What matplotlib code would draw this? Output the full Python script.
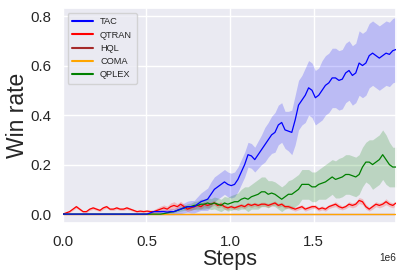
import numpy as np
import matplotlib
matplotlib.use("Agg")
import matplotlib.pyplot as plt
import seaborn as sns

sns.set_theme(style="darkgrid")
plt.rcParams['font.family'] = ['Liberation Sans', 'DejaVu Sans']

n_points = 100
steps = np.linspace(0, 1.994e6, n_points)

tac_mean = [0.0] * 25 + [
    0.0, 0.005, 0.01, 0.01, 0.01,
    0.01, 0.008, 0.01, 0.01, 0.015, 0.02, 0.025, 0.03, 0.03, 0.03,
    0.04, 0.05, 0.055, 0.06, 0.08, 0.10, 0.11, 0.12, 0.13, 0.12,
    0.115, 0.12, 0.14, 0.17, 0.2, 0.24, 0.235, 0.22, 0.24, 0.26,
    0.28, 0.3, 0.32, 0.33, 0.36, 0.37, 0.34, 0.335, 0.33, 0.38,
    0.44, 0.46, 0.48, 0.51, 0.5, 0.47, 0.48, 0.5, 0.52, 0.53,
    0.55, 0.55, 0.54, 0.545, 0.57, 0.58, 0.56, 0.57, 0.61, 0.6,
    0.61, 0.64, 0.65, 0.64, 0.63, 0.64, 0.65, 0.645, 0.66, 0.665]
tac_std = [0.0] * 25 + [
    0.0, 0.003, 0.005, 0.006, 0.008,
    0.01, 0.01, 0.012, 0.012, 0.015, 0.018, 0.02, 0.022, 0.025, 0.025,
    0.03, 0.035, 0.04, 0.045, 0.05, 0.05, 0.05, 0.05, 0.05, 0.05,
    0.05, 0.05, 0.05, 0.05, 0.05, 0.05, 0.05, 0.05, 0.055, 0.06,
    0.07, 0.07, 0.075, 0.08, 0.08, 0.08, 0.075, 0.08, 0.09, 0.1,
    0.1, 0.1, 0.11, 0.11, 0.11, 0.11, 0.11, 0.12, 0.12, 0.12,
    0.12, 0.12, 0.12, 0.12, 0.12, 0.12, 0.12, 0.12, 0.13, 0.13,
    0.13, 0.13, 0.13, 0.13, 0.13, 0.13, 0.13, 0.13, 0.13, 0.13]

qtran_mean = [
    0.0, 0.005, 0.01, 0.02, 0.03, 0.02, 0.01, 0.01, 0.02, 0.025,
    0.02, 0.015, 0.025, 0.03, 0.02, 0.02, 0.025, 0.02, 0.02, 0.025,
    0.02, 0.015, 0.01, 0.012, 0.01, 0.012, 0.01, 0.01, 0.015, 0.02,
    0.025, 0.02, 0.03, 0.035, 0.03, 0.04, 0.03, 0.02, 0.025, 0.03,
    0.035, 0.03, 0.04, 0.035, 0.04, 0.045, 0.035, 0.04, 0.03, 0.025,
    0.03, 0.025, 0.03, 0.035, 0.03, 0.04, 0.035, 0.04, 0.035, 0.04,
    0.04, 0.035, 0.04, 0.045, 0.035, 0.04, 0.03, 0.03, 0.025, 0.02,
    0.025, 0.03, 0.02, 0.025, 0.03, 0.03, 0.02, 0.025, 0.02, 0.03,
    0.035, 0.04, 0.03, 0.025, 0.03, 0.04, 0.035, 0.04, 0.055, 0.05,
    0.03, 0.02, 0.03, 0.04, 0.035, 0.04, 0.05, 0.04, 0.035, 0.045]
qtran_std = [
    0.0, 0.002, 0.004, 0.005, 0.006, 0.005, 0.004, 0.005, 0.005, 0.006,
    0.005, 0.005, 0.006, 0.006, 0.005, 0.005, 0.006, 0.005, 0.005, 0.006,
    0.005, 0.005, 0.004, 0.005, 0.005, 0.006, 0.006, 0.008, 0.01, 0.012,
    0.012, 0.012, 0.015, 0.015, 0.012, 0.012, 0.01, 0.01, 0.01, 0.01,
    0.01, 0.01, 0.01, 0.01, 0.01, 0.01, 0.01, 0.01, 0.01, 0.008,
    0.008, 0.008, 0.008, 0.008, 0.008, 0.008, 0.008, 0.008, 0.008, 0.008,
    0.008, 0.008, 0.008, 0.008, 0.008, 0.008, 0.008, 0.008, 0.008, 0.008,
    0.008, 0.008, 0.008, 0.008, 0.008, 0.008, 0.008, 0.008, 0.008, 0.008,
    0.008, 0.01, 0.01, 0.008, 0.008, 0.01, 0.01, 0.01, 0.012, 0.012,
    0.01, 0.008, 0.01, 0.01, 0.01, 0.01, 0.012, 0.01, 0.01, 0.01]

hql_mean = [0.0] * n_points
coma_mean = [0.0] * n_points

qplex_mean = [0.0] * 30 + [
    0.002, 0.005, 0.008, 0.01, 0.015, 0.02, 0.025, 0.03, 0.03, 0.035,
    0.035, 0.04, 0.04, 0.045, 0.04, 0.045, 0.04, 0.035, 0.045, 0.04,
    0.045, 0.05, 0.05, 0.06, 0.065, 0.06, 0.07, 0.075, 0.08, 0.09,
    0.09, 0.08, 0.085, 0.08, 0.07, 0.06, 0.07, 0.08, 0.08, 0.09,
    0.1, 0.12, 0.12, 0.12, 0.11, 0.11, 0.12, 0.125, 0.13, 0.14,
    0.15, 0.14, 0.145, 0.15, 0.16, 0.16, 0.155, 0.15, 0.16, 0.19,
    0.21, 0.21, 0.2, 0.21, 0.22, 0.24, 0.22, 0.2, 0.19, 0.19]
qplex_std = [0.0] * 30 + [
    0.002, 0.003, 0.004, 0.005, 0.006, 0.008, 0.01, 0.012, 0.014, 0.016,
    0.018, 0.02, 0.02, 0.022, 0.022, 0.024, 0.025, 0.025, 0.026, 0.028,
    0.03, 0.03, 0.035, 0.04, 0.045, 0.05, 0.05, 0.055, 0.06, 0.06,
    0.06, 0.055, 0.05, 0.05, 0.05, 0.05, 0.05, 0.055, 0.06, 0.06,
    0.06, 0.06, 0.06, 0.06, 0.06, 0.06, 0.06, 0.065, 0.07, 0.07,
    0.07, 0.075, 0.08, 0.08, 0.08, 0.08, 0.08, 0.08, 0.08, 0.08,
    0.08, 0.09, 0.1, 0.1, 0.1, 0.1, 0.1, 0.09, 0.08, 0.08]

series = [
    ("TAC", tac_mean, tac_std, "blue"),
    ("QTRAN", qtran_mean, qtran_std, "red"),
    ("HQL", hql_mean, None, "brown"),
    ("COMA", coma_mean, None, "orange"),
    ("QPLEX", qplex_mean, qplex_std, "green"),
]

fig = plt.figure(figsize=(4.03, 2.79), dpi=100)
ax = fig.add_axes([0.156, 0.2007, 0.827, 0.7703])

for name, m, s, c in series:
    m = np.array(m)
    if s is not None:
        s = np.array(s)
        ax.fill_between(steps, m - s, m + s, color=c, alpha=0.2, linewidth=0)

z = {"TAC": 5, "QTRAN": 3, "HQL": 2, "COMA": 4, "QPLEX": 4.5}
for name, m, s, c in series:
    ax.plot(steps, m, color=c, linewidth=0.9, label=name, zorder=z[name])

ax.set_xlim(0, 1.994e6)
ax.set_ylim(-0.036, 0.832)
ax.set_xticks([0, 0.5e6, 1.0e6, 1.5e6])
ax.set_yticks([0.0, 0.2, 0.4, 0.6, 0.8])
ax.tick_params(axis='both', labelsize=10.8, pad=2.5)
ax.xaxis.get_offset_text().set_fontsize(7.3)
ax.set_xlabel("Steps", fontsize=15.5, labelpad=0)
ax.set_ylabel("Win rate", fontsize=16.5, labelpad=1)

leg = ax.legend(loc="upper left", fontsize=6.7, handlelength=2.2,
                labelspacing=0.45, borderpad=0.5, frameon=True)
for line in leg.get_lines():
    line.set_linewidth(1.5)

fig.savefig("out.png", dpi=100)
